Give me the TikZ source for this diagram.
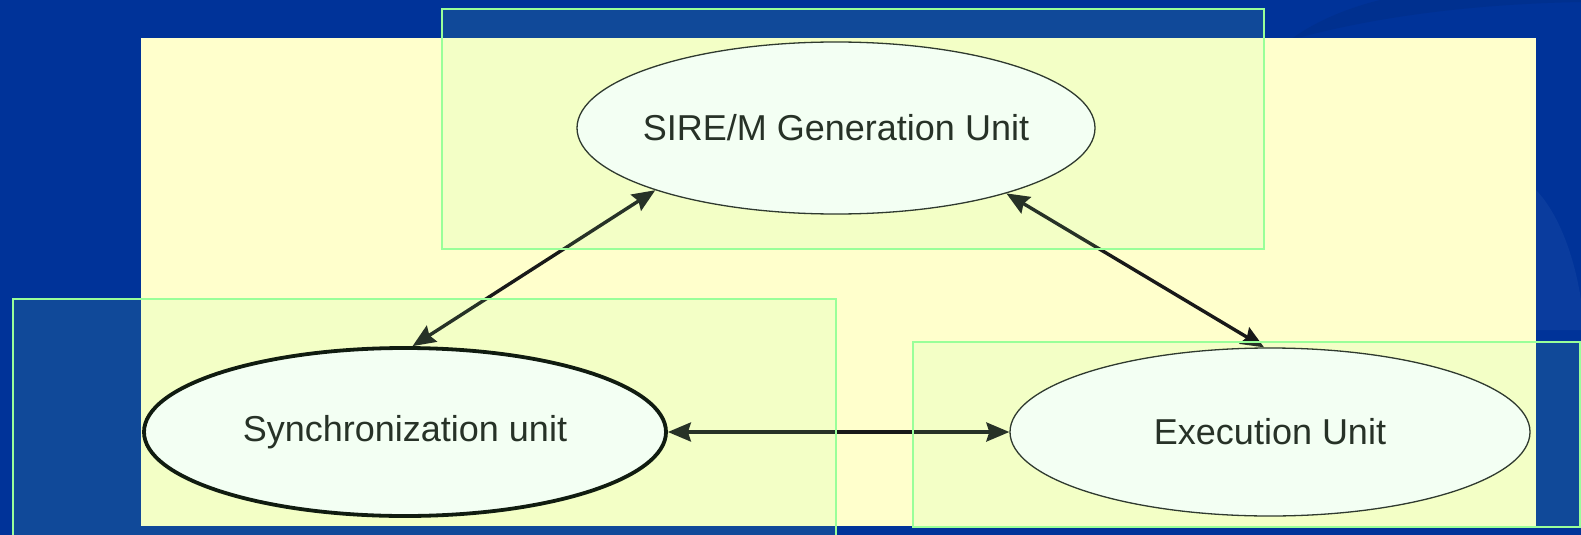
\documentclass[tikz,border=0pt]{standalone}
\usepackage{fontspec}
\setmainfont{Liberation Sans}
\usetikzlibrary{arrows.meta,shapes.geometric}
\definecolor{slideblue}{HTML}{003399}
\definecolor{slideshade}{HTML}{00308F}
\definecolor{slidelight}{HTML}{0A3C9E}
\definecolor{paneyellow}{HTML}{FFFFCC}
\definecolor{panegreen}{HTML}{99FF99}
\definecolor{rimgray}{HTML}{222222}
\tikzset{
  unit/.style={ellipse, fill=white, inner sep=0pt},
  caption/.style={inner sep=0pt, text=black!90, font=\fontsize{36}{43}\selectfont},
  thinrim/.style={draw=rimgray, line width=1.3pt},
  thickrim/.style={draw=black, line width=3.8pt},
  link/.style={line width=3.4pt, black!90, {Stealth[length=23pt,width=19pt,inset=3pt]}-{Stealth[length=23pt,width=19pt,inset=3pt]}},
  pane/.style={draw=panegreen, line width=2pt, fill=panegreen, fill opacity=0.11, draw opacity=1}
}
\begin{document}
\begin{tikzpicture}[x=1pt,y=-1pt]
  % slide background
  \fill[slideblue] (0,0) rectangle (1581,535);
  \useasboundingbox (0,0) rectangle (1581,535);
  % faint swooshes of the slide design
  \fill[slideshade] (1290,40) .. controls (1380,15) and (1480,4) .. (1581,2)
    -- (1581,0) -- (1380,0) .. controls (1340,10) and (1310,25) .. cycle;
  \fill[slidelight] (1536,190) .. controls (1560,215) and (1575,260) .. (1581,300)
    -- (1581,330) -- (1536,330) -- cycle;
  % yellow panel
  \fill[paneyellow] (141,38) rectangle (1536,526);

  % units
  \node[unit, thinrim, minimum width=518pt, minimum height=172pt] (gen) at (836,128) {};
  \node[unit, thickrim, minimum width=522pt, minimum height=168pt] (sync) at (405,432) {};
  \node[unit, thinrim, minimum width=520pt, minimum height=168pt] (exec) at (1270,432) {};
  \node[caption] (gentext) at (gen.center) {SIRE/M Generation Unit};
  \node[caption] (synctext) at (sync.center) {Synchronization unit};
  \node[caption] (exectext) at (exec.center) {Execution Unit};

  % connectors
  \draw[link] (gen.199) -- (sync.85);
  \draw[link] (gen.339) -- (exec.94);
  \draw[link] (sync.east) -- (exec.west);

  % translucent green panes laid over the diagram
  \draw[pane] (442,9) rectangle (1264,249);
  \draw[pane] (13,299) rectangle (836,560);
  \draw[pane] (913,342) rectangle (1580,527);
\end{tikzpicture}
\end{document}
